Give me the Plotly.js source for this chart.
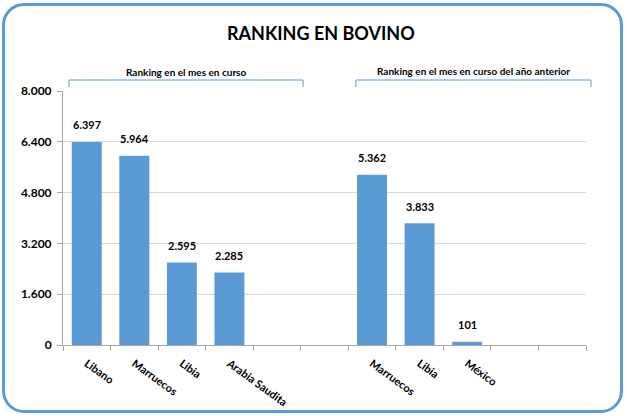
<!DOCTYPE html>
<html>
<head>
<meta charset="utf-8">
<script src="https://cdn.plot.ly/plotly-3.0.1.min.js"></script>
<style>
html,body{margin:0;padding:0;background:#fff;}
#wrap{position:relative;width:627px;height:416px;}
#frame{position:absolute;left:2px;top:3px;width:621px;height:410px;box-sizing:border-box;border:3px solid #5B9BD5;border-radius:22px;}
#chart{position:absolute;left:0;top:0;width:627px;height:416px;}
</style>
</head>
<body>
<div id="wrap"><div id="frame"></div><div id="chart"></div></div>
<script>
const labels = ['Libano','Marruecos','Libia','Arabia Saudita','','','Marruecos','Libia','México','',''];
const values = [6397, 5964, 2595, 2285, null, null, 5362, 3833, 101, null, null];
const yTicks = [0, 1600, 3200, 4800, 6400, 8000];
const groupTitles = ['Ranking en el mes en curso', 'Ranking en el mes en curso del año anterior'];

const xs = labels.map((_, i) => i);
const fmt = v => v.toString().replace(/\B(?=(\d{3})+(?!\d))/g, '.');

const font = 'Lato, "Open Sans", sans-serif';

const trace = {
  type: 'bar',
  x: xs,
  y: values,
  marker: {color: '#5B9BD5'},
  width: 0.63,
  hoverinfo: 'none'
};

const annotations = [];
values.forEach((v, i) => {
  if (v !== null) {
    annotations.push({
      x: i, y: v, xref: 'x', yref: 'y', text: fmt(v), showarrow: false,
      yanchor: 'middle', yshift: 17,
      font: {family: font, size: 11, color: '#000', weight: 'bold'}
    });
  }
});
// group headings and brackets (paper coordinates)
const brackets = [[0.0115, 0.459], [0.560, 1.0096]];
const headY = [1.073, 1.077];
groupTitles.forEach((t, k) => {
  annotations.push({
    x: (brackets[k][0] + brackets[k][1]) / 2, xref: 'paper', xanchor: 'center',
    y: headY[k], yref: 'paper', yanchor: 'middle',
    text: t, showarrow: false,
    font: {family: font, size: 10, color: '#000', weight: 'bold'}
  });
});

const layout = {
  width: 627, height: 416,
  margin: {l: 63, r: 41, t: 91, b: 71},
  paper_bgcolor: 'rgba(0,0,0,0)',
  plot_bgcolor: 'rgba(0,0,0,0)',
  separators: ',.',
  showlegend: false,
  title: {
    text: 'RANKING EN BOVINO',
    font: {family: font, size: 18, color: '#000', weight: 'bold'},
    x: 0.493, xref: 'paper', xanchor: 'center',
    y: 0.92, yref: 'container', yanchor: 'middle'
  },
  xaxis: {
    range: [-0.5, 10.5],
    tickvals: xs,
    ticktext: labels,
    tickangle: 36,
    ticks: '',
    ticklabelstandoff: 7,
    showgrid: false,
    zeroline: false,
    showline: true, linecolor: '#A6A6A6', linewidth: 1,
    tickfont: {family: font, size: 11, color: '#000', weight: 'bold'},
    minor: {tickvals: labels.map((_, i) => i - 0.5).concat([labels.length - 0.5]), ticks: 'outside', ticklen: 5, tickcolor: '#A6A6A6', showgrid: false}
  },
  yaxis: {
    range: [0, 8000],
    tickvals: yTicks,
    tickformat: ',d',
    ticks: 'outside', ticklen: 5, tickcolor: '#A6A6A6',
    ticklabelstandoff: 3,
    showline: true, linecolor: '#A6A6A6', linewidth: 1,
    showgrid: true, gridcolor: '#D9D9D9', gridwidth: 1,
    zeroline: false,
    tickfont: {family: font, size: 12, color: '#000', weight: 'bold'}
  },
  annotations: annotations,
  shapes: []
};

const yTop = 1 + 11 / 254, yBot = 1 + 4 / 254;
brackets.forEach(b => {
  [[b[0], yBot, b[0], yTop], [b[0], yTop, b[1], yTop], [b[1], yTop, b[1], yBot]].forEach(s => {
    layout.shapes.push({type: 'line', xref: 'paper', yref: 'paper', x0: s[0], y0: s[1], x1: s[2], y1: s[3],
      line: {color: '#5B9BD5', width: 1}});
  });
});

Plotly.newPlot('chart', [trace], layout, {displayModeBar: false, staticPlot: true});
</script>
</body>
</html>
